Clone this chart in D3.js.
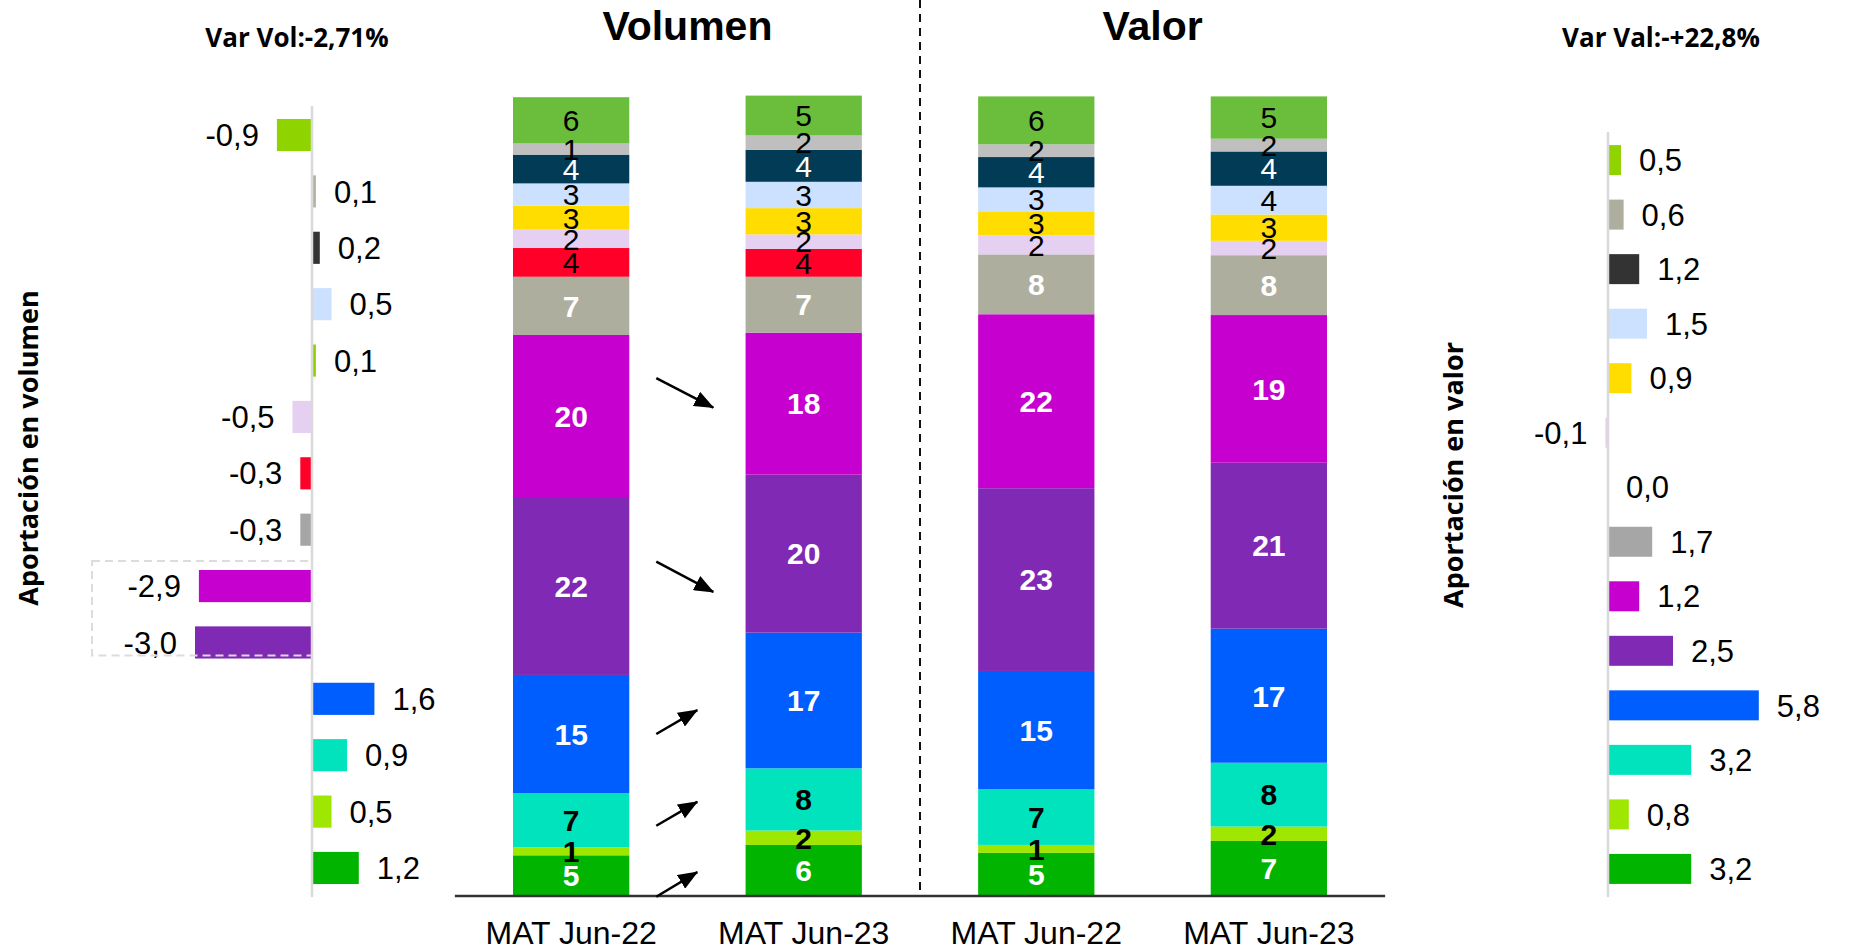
<!DOCTYPE html>
<html>
<head>
<meta charset="utf-8">
<script src="https://cdn.jsdelivr.net/npm/d3@7"></script>
<style>
  body { margin: 0; background: #fff; }
  svg { display: block; font-family: "Liberation Sans", Arial, sans-serif; }
  .seg-label { text-anchor: middle; font-size: 30px; }
  .contrib-label { font-size: 31px; fill: #000; }
  .side-title { font-family: "Open Sans", sans-serif; font-weight: 700; }
</style>
</head>
<body>
<svg id="chart" width="1850" height="951"></svg>
<script>
// ---- data ----
var periods = ["MAT Jun-22", "MAT Jun-23"];
var panels = ["Volumen", "Valor"];

// stacked shares, bottom to top (14 segments)
var segments = ["s1","s2","s3","s4","s5","s6","s7","s8","s9","s10","s11","s12","s13","s14"];
var volJun22 = [5.1, 1.0, 6.8, 14.8, 22.3, 20.3, 7.3, 3.6, 2.3, 3.0, 2.8, 3.6, 1.4, 5.8];
var volJun23 = [6.4, 1.8, 7.8, 17.0, 19.8, 17.8, 7.0, 3.5, 1.8, 3.3, 3.3, 4.0, 1.8, 5.0];
var valJun22 = [5.4, 1.0, 7.0, 14.8, 22.9, 21.8, 7.5, 0, 2.4, 3.0, 3.0, 3.8, 1.6, 6.0];
var valJun23 = [6.9, 1.8, 8.0, 16.8, 20.8, 18.5, 7.5, 0, 1.8, 3.3, 3.6, 4.3, 1.6, 5.3];

// contribution bars, top to bottom
var contribVol = [-0.9, 0.1, 0.2, 0.5, 0.1, -0.5, -0.3, -0.3, -2.9, -3.0, 1.6, 0.9, 0.5, 1.2];
var contribVal = [0.5, 0.6, 1.2, 1.5, 0.9, -0.1, 0.0, 1.7, 1.2, 2.5, 5.8, 3.2, 0.8, 3.2];

var varVolText = "Var Vol:-2,71%";
var varValText = "Var Val:-+22,8%";

// arrows between volume bars: [from share, to share]
var volArrows = [[64.9, 61.2], [41.9, 38.1], [20.3, 23.3], [8.8, 11.8], [-0.1, 3.0]];

// ---- colours / label styles ----
var segColors = ["#00b400","#9fe600","#00e3bc","#005eff","#7f29b4","#c600cf","#adae9e",
                 "#ff0028","#e5d0f2","#ffdd00","#cce0ff","#023b55","#bfbfbf","#6bbe3c"];
var segTextColor = ["#fff","#000","#000","#fff","#fff","#fff","#fff","#000","#000","#000","#000","#fff","#000","#000"];
var segTextBold  = [true, true, true, true, true, true, true, false, false, false, false, false, false, false];

var volColors = ["#8fd400","#b3b3a6","#333333","#cce0ff","#8fd400","#e5d0f2","#ff0028",
                 "#a6a6a6","#c600cf","#7f29b4","#005eff","#00e3bc","#9fe600","#00b400"];
var valColors = ["#8fd400","#adae9e","#333333","#cce0ff","#ffdd00","#e5d0f2","none",
                 "#a6a6a6","#c600cf","#7f29b4","#005eff","#00e3bc","#9fe600","#00b400"];

var svg = d3.select("#chart");
var fmt = function(v) { return d3.format(".1f")(v).replace(".", ",").replace("\u2212", "-"); };

// ---- stacked bars ----
var columns = [
  {key: "vol22", period: periods[0], values: volJun22},
  {key: "vol23", period: periods[1], values: volJun23},
  {key: "val22", period: periods[0], values: valJun22},
  {key: "val23", period: periods[1], values: valJun23}
];

var x = d3.scaleBand().domain(columns.map(function(d) { return d.key; }))
    .range([513, 1327]).paddingInner(0.5).paddingOuter(0);
var y = d3.scaleLinear().domain([0, 100]).range([896, 98]);

var rows = columns.map(function(c) {
  var r = {key: c.key};
  segments.forEach(function(s, i) { r[s] = c.values[i]; });
  return r;
});
var stacked = d3.stack().keys(segments)(rows);

var g = svg.append("g");

g.selectAll(".layer")
  .data(stacked)
  .enter().append("g")
    .attr("class", "layer")
    .attr("fill", function(d, i) { return segColors[i]; })
  .selectAll("rect")
  .data(function(d) { return d; })
  .enter().append("rect")
    .attr("x", function(d) { return x(d.data.key); })
    .attr("y", function(d) { return y(d[1]); })
    .attr("width", x.bandwidth())
    .attr("height", function(d) { return y(d[0]) - y(d[1]); });

stacked.forEach(function(layer, i) {
  g.selectAll(".lbl" + i)
    .data(layer.filter(function(d) { return d[1] - d[0] > 0; }))
    .enter().append("text")
      .attr("class", "seg-label")
      .attr("x", function(d) { return x(d.data.key) + x.bandwidth() / 2; })
      .attr("y", function(d) { return y((d[0] + d[1]) / 2); })
      .attr("dy", "0.36em")
      .style("fill", segTextColor[i])
      .style("font-weight", segTextBold[i] ? "700" : "400")
      .text(function(d) { return Math.round(d[1] - d[0]); });
});

// baseline
var x0 = x.range()[0] - x.bandwidth() / 2,
    x1 = x.range()[1] + x.bandwidth() / 2;
g.append("line")
    .attr("x1", x0).attr("x2", x1)
    .attr("y1", y(0)).attr("y2", y(0))
    .attr("stroke", "#333").attr("stroke-width", 2.5);

// category labels
g.selectAll(".cat")
  .data(columns)
  .enter().append("text")
    .attr("x", function(d) { return x(d.key) + x.bandwidth() / 2; })
    .attr("y", 944)
    .attr("text-anchor", "middle")
    .style("font-size", "32px")
    .text(function(d) { return d.period; });

// divider
var midX = (x("vol23") + x.bandwidth() + x("val22")) / 2;
g.append("line")
    .attr("x1", midX).attr("x2", midX)
    .attr("y1", 0).attr("y2", y(0) - 3)
    .attr("stroke", "#111").attr("stroke-width", 2)
    .style("stroke-dasharray", "8,6");

// panel titles
g.selectAll(".panel")
  .data(panels)
  .enter().append("text")
    .attr("x", function(d, i) {
      var a = columns[i * 2].key, b = columns[i * 2 + 1].key;
      return (x(a) + x(b) + x.bandwidth()) / 2;
    })
    .attr("y", 40)
    .attr("text-anchor", "middle")
    .style("font-size", "41px")
    .style("font-weight", "700")
    .text(function(d) { return d; });

// arrows
svg.append("defs").append("marker")
    .attr("id", "head")
    .attr("markerUnits", "userSpaceOnUse")
    .attr("viewBox", "0 0 20 16")
    .attr("markerWidth", 20).attr("markerHeight", 16)
    .attr("refX", 19).attr("refY", 8)
    .attr("orient", "auto")
  .append("path")
    .attr("d", "M0,0 L20,8 L0,16 Z")
    .attr("fill", "#000");

var ax0 = x("vol22") + x.bandwidth() + 27;
g.selectAll(".arrow")
  .data(volArrows)
  .enter().append("line")
    .attr("x1", ax0)
    .attr("y1", function(d) { return y(d[0]); })
    .attr("x2", function(d) { return ax0 + (d[1] < d[0] ? 57 : 41); })
    .attr("y2", function(d) { return y(d[1]); })
    .attr("stroke", "#000").attr("stroke-width", 2.5)
    .attr("marker-end", "url(#head)");

// ---- contribution charts ----
function contribChart(opt) {
  var cy = d3.scaleBand().domain(d3.range(opt.values.length))
      .range(opt.yRange).paddingInner(opt.pi).paddingOuter(opt.po);
  var cx = d3.scaleLinear().domain([0, 1]).range([opt.zero, opt.zero + opt.unit]);
  var cg = svg.append("g");

  cg.selectAll("rect")
    .data(opt.values)
    .enter().append("rect")
      .attr("x", function(d) { return Math.min(cx(0), cx(d)); })
      .attr("y", function(d, i) { return cy(i); })
      .attr("width", function(d) { return Math.abs(cx(d) - cx(0)); })
      .attr("height", cy.bandwidth())
      .attr("fill", function(d, i) { return opt.colors[i]; });

  cg.append("line")
      .attr("x1", cx(0)).attr("x2", cx(0))
      .attr("y1", opt.yRange[0]).attr("y2", opt.yRange[1])
      .attr("stroke", "#d9d9d9").attr("stroke-width", 2.5);

  cg.selectAll(".contrib-label")
    .data(opt.values)
    .enter().append("text")
      .attr("class", "contrib-label")
      .attr("x", function(d) { return d < 0 ? cx(d) - 18 : cx(d) + 18; })
      .attr("y", function(d, i) { return cy(i) + cy.bandwidth() / 2; })
      .attr("dy", "0.36em")
      .attr("text-anchor", function(d) { return d < 0 ? "end" : "start"; })
      .text(function(d) { return fmt(d); });

  svg.append("text")
      .attr("class", "side-title")
      .attr("x", opt.varX).attr("y", 47)
      .attr("text-anchor", "middle")
      .style("font-size", "26px")
      .text(opt.varText);

  svg.append("text")
      .attr("class", "side-title")
      .attr("transform", "translate(" + opt.titleX + "," + opt.titleY + ") rotate(-90)")
      .attr("text-anchor", "middle")
      .style("font-size", "27px")
      .text(opt.title);

  return {cx: cx, cy: cy, g: cg};
}

var left = contribChart({
  values: contribVol, colors: volColors, yRange: [106, 897], pi: 0.43, po: 0.23,
  zero: 312, unit: 39, varText: varVolText, varX: 297,
  title: "Aportación en volumen", titleX: 38, titleY: 448
});

var right = contribChart({
  values: contribVal, colors: valColors, yRange: [132, 897], pi: 0.45, po: 0.24,
  zero: 1608, unit: 26, varText: varValText, varX: 1661,
  title: "Aportación en valor", titleX: 1463, titleY: 475
});

// dashed highlight box around the two largest losses
var bx = left.cx(-3.0) - 103;
left.g.append("rect")
    .attr("x", bx)
    .attr("y", left.cy(8) - 9)
    .attr("width", left.cx(0) - bx)
    .attr("height", left.cy(9) + left.cy.bandwidth() - 3 - (left.cy(8) - 9))
    .attr("fill", "none")
    .attr("stroke", "#dcdcdc").attr("stroke-width", 2)
    .style("stroke-dasharray", "8,5");
</script>
</body>
</html>
